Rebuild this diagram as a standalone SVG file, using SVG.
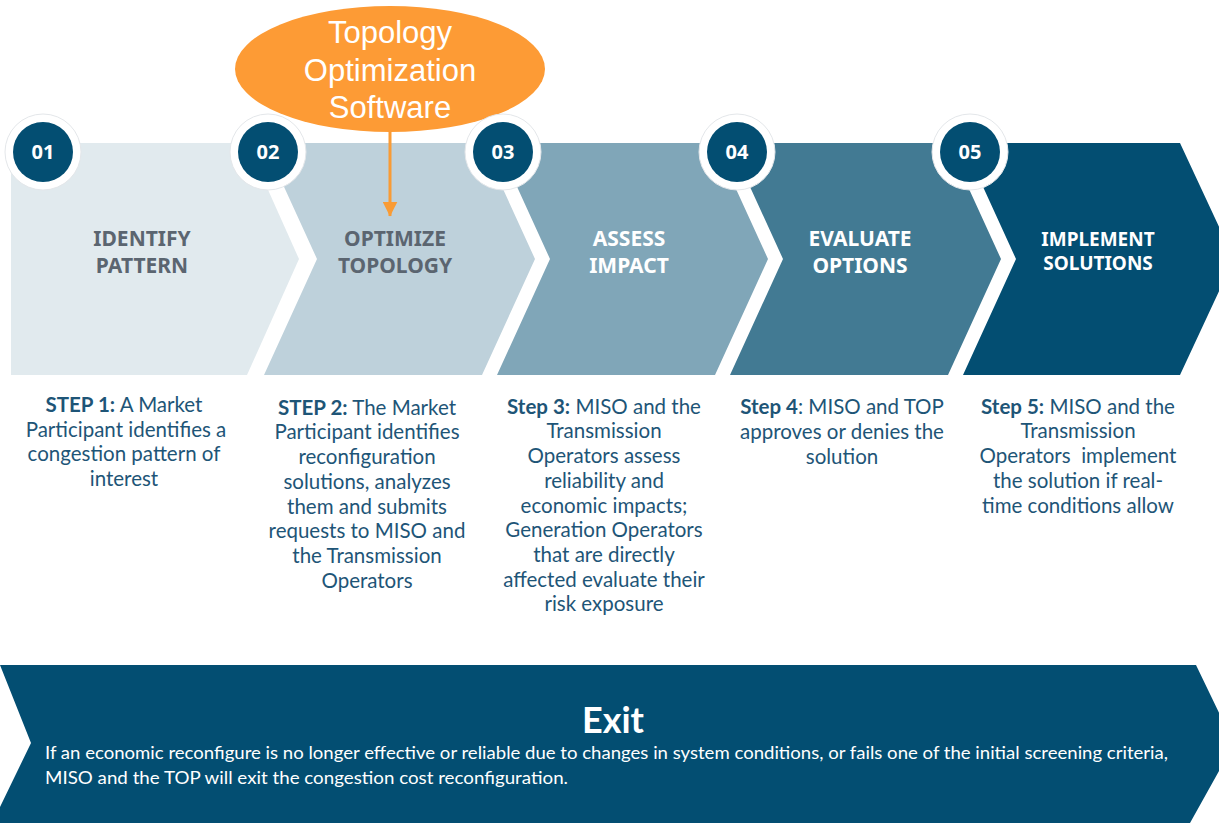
<svg xmlns="http://www.w3.org/2000/svg" width="1219" height="823" viewBox="0 0 1219 823">
<defs>
<style>
.title{font-family:"Noto Sans","Open Sans",sans-serif;font-weight:700;font-size:21px;text-anchor:middle}
.gray{fill:#5B6570}
.white{fill:#ffffff}
.num{font-family:"Noto Sans","Open Sans",sans-serif;font-weight:700;font-size:20px;fill:#ffffff;text-anchor:middle}
.ring{fill:#ffffff;stroke:#e4e7ea;stroke-width:1}
.dot{fill:#034E72}
.step{font-family:Lato,"Open Sans",sans-serif;font-size:20.5px;fill:#1E5577;text-anchor:middle}
.step tspan.b{font-weight:700}
.ell{font-family:"Liberation Sans",Arial,sans-serif;font-size:31px;fill:#ffffff;text-anchor:middle}
.exitp{font-family:Lato,"Open Sans",sans-serif;font-size:17px;fill:#ffffff}
</style>
<marker id="arr" markerWidth="5" markerHeight="5" refX="4.8" refY="2.5" orient="auto" markerUnits="strokeWidth" viewBox="0 0 5 5">
<path d="M0,0 L5,2.5 L0,5 Z" fill="#F99B35"/>
</marker>
</defs>
<rect width="1219" height="823" fill="#ffffff"/>

<g id="step1">
<polygon points="11,143 247,143 299,259 247,375 11,375" fill="#E1EAEE"/>
<text class="title gray" x="142" y="246">IDENTIFY</text>
<text class="title gray" x="142" y="273">PATTERN</text>
</g>
<g id="step2">
<polygon points="264,143 482,143 535,259 482,375 264,375 317,259" fill="#BED1DB"/>
<text class="title gray" x="395" y="246">OPTIMIZE</text>
<text class="title gray" x="395" y="273">TOPOLOGY</text>
</g>
<g id="step3">
<polygon points="497,143 715,143 768,259 715,375 497,375 550,259" fill="#80A6B8"/>
<text class="title white" x="629" y="246">ASSESS</text>
<text class="title white" x="629" y="273">IMPACT</text>
</g>
<g id="step4">
<polygon points="730,143 948,143 1001,259 948,375 730,375 783,259" fill="#427A93"/>
<text class="title white" x="860" y="246">EVALUATE</text>
<text class="title white" x="860" y="273">OPTIONS</text>
</g>
<g id="step5">
<polygon points="963,143 1180,143 1234,259 1180,375 963,375 1016,259" fill="#034E72"/>
<text class="title white" x="1098" y="246" style="font-size:19px">IMPLEMENT</text>
<text class="title white" x="1098" y="270" style="font-size:19px">SOLUTIONS</text>
</g>

<g id="software">
<ellipse cx="390" cy="69" rx="155" ry="63" fill="#FD9B35"/>
<text class="ell" x="390" y="43">Topology</text>
<text class="ell" x="390" y="81">Optimization</text>
<text class="ell" x="390" y="118">Software</text>
</g>

<g id="connectors">
<line x1="390" y1="132" x2="390" y2="216" stroke="#F99B35" stroke-width="3" marker-end="url(#arr)"/>
</g>

<g id="badge1"><circle class="ring" cx="43" cy="152" r="38"/><circle class="dot" cx="43" cy="152" r="30"/><text class="num" x="43" y="159">01</text></g>
<g id="badge2"><circle class="ring" cx="268" cy="152" r="38"/><circle class="dot" cx="268" cy="152" r="30"/><text class="num" x="268" y="159">02</text></g>
<g id="badge3"><circle class="ring" cx="503" cy="152" r="38"/><circle class="dot" cx="503" cy="152" r="30"/><text class="num" x="503" y="159">03</text></g>
<g id="badge4"><circle class="ring" cx="737" cy="152" r="38"/><circle class="dot" cx="737" cy="152" r="30"/><text class="num" x="737" y="159">04</text></g>
<g id="badge5"><circle class="ring" cx="970" cy="152" r="38"/><circle class="dot" cx="970" cy="152" r="30"/><text class="num" x="970" y="159">05</text></g>

<g id="desc1">
<text class="step" x="124" y="412"><tspan class="b">STEP 1:</tspan> A Market</text>
<text class="step" x="126" y="437">Participant identifies a</text>
<text class="step" x="124" y="461">congestion pattern of</text>
<text class="step" x="124" y="486">interest</text>
</g>
<g id="desc2">
<text class="step" x="367" y="415"><tspan class="b">STEP 2:</tspan> The Market</text>
<text class="step" x="367" y="439">Participant identifies</text>
<text class="step" x="367" y="464">reconfiguration</text>
<text class="step" x="367" y="489">solutions, analyzes</text>
<text class="step" x="367" y="514">them and submits</text>
<text class="step" x="367" y="538">requests to MISO and</text>
<text class="step" x="367" y="563">the Transmission</text>
<text class="step" x="367" y="588">Operators</text>
</g>
<g id="desc3">
<text class="step" x="604" y="414"><tspan class="b">Step 3:</tspan> MISO and the</text>
<text class="step" x="604" y="438">Transmission</text>
<text class="step" x="604" y="463">Operators assess</text>
<text class="step" x="604" y="488">reliability and</text>
<text class="step" x="604" y="513">economic impacts;</text>
<text class="step" x="604" y="537">Generation Operators</text>
<text class="step" x="604" y="562">that are directly</text>
<text class="step" x="604" y="587">affected evaluate their</text>
<text class="step" x="604" y="611">risk exposure</text>
</g>
<g id="desc4">
<text class="step" x="842" y="414"><tspan class="b">Step 4</tspan>: MISO and TOP</text>
<text class="step" x="842" y="439">approves or denies the</text>
<text class="step" x="842" y="464">solution</text>
</g>
<g id="desc5">
<text class="step" x="1078" y="414"><tspan class="b">Step 5:</tspan> MISO and the</text>
<text class="step" x="1078" y="438">Transmission</text>
<text class="step" x="1078" y="463" xml:space="preserve">Operators  implement</text>
<text class="step" x="1078" y="488">the solution if real-</text>
<text class="step" x="1078" y="513">time conditions allow</text>
</g>

<g id="exit">
<polygon points="0,665 1196,665 1234,744 1190,823 0,823 0,807 31,743" fill="#034E72"/>
<text x="613" y="733" style="font-family:Lato,'Open Sans',sans-serif;font-weight:700;font-size:36px;fill:#ffffff;text-anchor:middle">Exit</text>
<text class="exitp" x="45" y="759" textLength="1123" lengthAdjust="spacingAndGlyphs">If an economic reconfigure is no longer effective or reliable due to changes in system conditions, or fails one of the initial screening criteria,</text>
<text class="exitp" x="45" y="784" textLength="523" lengthAdjust="spacingAndGlyphs">MISO and the TOP will exit the congestion cost reconfiguration.</text>
</g>
</svg>
